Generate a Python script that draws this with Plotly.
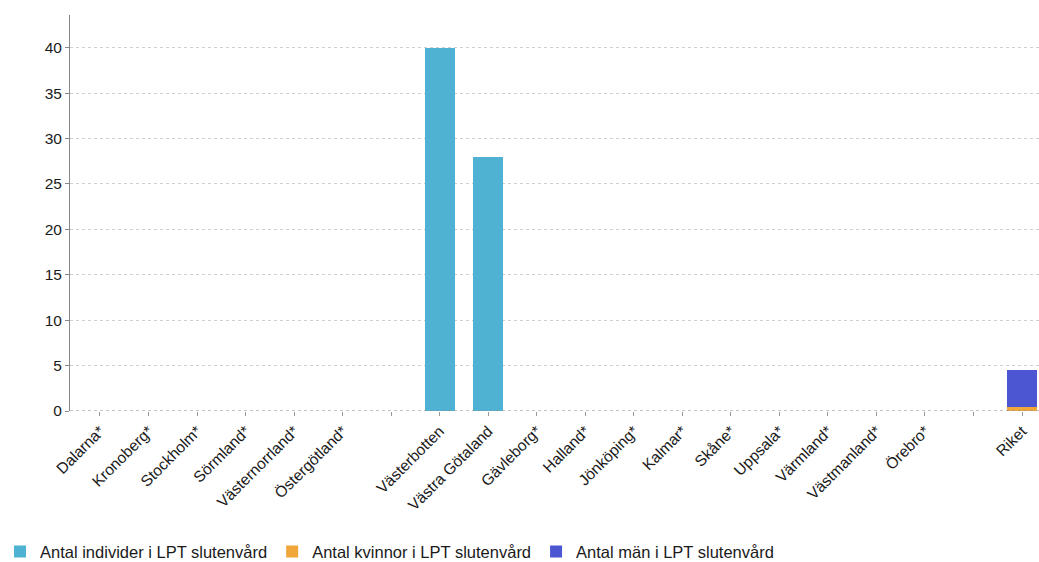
import plotly.graph_objects as go

categories = ["Dalarna*", "Kronoberg*", "Stockholm*", "Sörmland*", "Västernorrland*",
              "Östergötland*", " ", "Västerbotten", "Västra Götaland", "Gävleborg*",
              "Halland*", "Jönköping*", "Kalmar*", "Skåne*", "Uppsala*", "Värmland*",
              "Västmanland*", "Örebro*", "  ", "Riket"]

individer = [0, 0, 0, 0, 0, 0, None, 40, 28, 0, 0, 0, 0, 0, 0, 0, 0, 0, None, None]
kvinnor = [None] * 19 + [0.4]
man = [None] * 19 + [4.1]

series = [
    ("Antal individer i LPT slutenvård", individer, "#50b2d3"),
    ("Antal kvinnor i LPT slutenvård", kvinnor, "#f1a63a"),
    ("Antal män i LPT slutenvård", man, "#4c55d2"),
]

fig = go.Figure()
for name, vals, color in series:
    fig.add_trace(go.Bar(x=categories, y=vals, name=name, width=0.62,
                         marker=dict(color=color, line=dict(width=0))))

font_family = "Liberation Sans, Arial, sans-serif"
fig.update_layout(
    width=1039, height=562,
    margin=dict(l=70, r=0, t=15, b=151, autoexpand=False),
    barmode="stack",
    paper_bgcolor="white", plot_bgcolor="white",
    font=dict(family=font_family, size=15, color="#1a1a1a"),
    showlegend=True,
    legend=dict(orientation="h", xref="container", yref="container",
                x=0.0, y=0.018, xanchor="left", yanchor="middle",
                font=dict(size=16.5, color="#1a1a1a"), itemwidth=30,
                traceorder="normal"),
    xaxis=dict(type="category", range=[-0.618, 19.35], tickangle=-45,
               ticks="outside", ticklen=4, tickcolor="#999", showgrid=False,
               showline=False, zeroline=False, automargin=False,
               tickfont=dict(size=15.5, color="#1a1a1a")),
    yaxis=dict(range=[0, 43.6], tickvals=[0, 5, 10, 15, 20, 25, 30, 35, 40],
               showgrid=True, gridcolor="#d0d0d0", griddash="3px,3px",
               showline=True, linecolor="#888", linewidth=1,
               ticks="outside", ticklen=4, tickcolor="#888", automargin=False,
               zeroline=False, tickfont=dict(size=15.5, color="#1a1a1a")),
    shapes=[dict(type="line", xref="paper", yref="y", x0=0, x1=1, y0=0, y1=0,
                 line=dict(color="#8a8a8a", width=1, dash="3px,3px"), layer="above")],
)

fig.write_html("out.html")
